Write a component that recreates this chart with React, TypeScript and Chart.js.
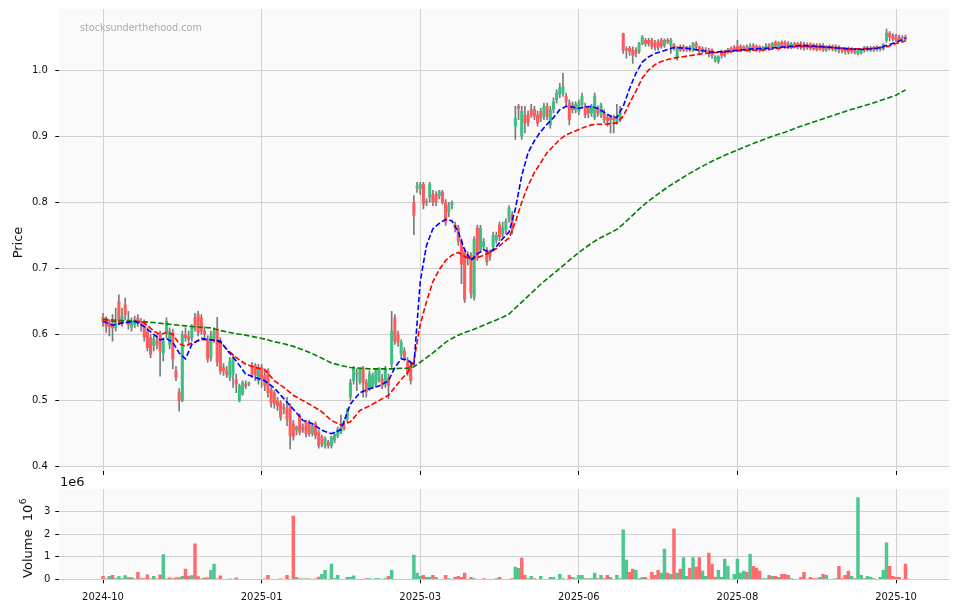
import React, { useEffect, useRef } from 'react';
import { Chart, registerables } from 'chart.js';

Chart.register(...registerables);

const FONT = "'DejaVu Sans', sans-serif";

// x-axis: trading-day index, labelled at these positions
const tickIdx = [0, 50, 100, 150, 200, 250];
const tickLabels = ['2024-10', '2025-01', '2025-03', '2025-06', '2025-08', '2025-10'];
const priceTicks = [0.4, 0.5, 0.6, 0.7, 0.8, 0.9, 1.0];
const volumeTicks = [0, 1e6, 2e6, 3e6];

const opens = [
  0.626, 0.621, 0.618, 0.616, 0.610, 0.649, 0.620, 0.645, 0.623, 0.611,
  0.615, 0.625, 0.618, 0.618, 0.605, 0.595, 0.583, 0.590, 0.600, 0.572,
  0.600, 0.585, 0.603, 0.545, 0.513, 0.500, 0.600, 0.597, 0.595, 0.625,
  0.630, 0.625, 0.605, 0.590, 0.565, 0.593, 0.608, 0.590, 0.550, 0.545,
  0.535, 0.540, 0.532, 0.500, 0.510, 0.525, 0.525, 0.553, 0.553, 0.530,
  0.550, 0.538, 0.545, 0.517, 0.512, 0.500, 0.497, 0.490, 0.487, 0.492,
  0.465, 0.455, 0.477, 0.460, 0.467, 0.467, 0.450, 0.465, 0.452, 0.445,
  0.432, 0.437, 0.432, 0.440, 0.447, 0.452, 0.462, 0.472, 0.505, 0.530,
  0.540, 0.528, 0.548, 0.528, 0.518, 0.520, 0.525, 0.530, 0.533, 0.525,
  0.533, 0.555, 0.625, 0.600, 0.570, 0.575, 0.558, 0.553, 0.800, 0.822,
  0.820, 0.827, 0.800, 0.807, 0.812, 0.812, 0.810, 0.815, 0.800, 0.785,
  0.796, 0.766, 0.761, 0.741, 0.726, 0.720, 0.720, 0.656, 0.761, 0.728,
  0.733, 0.728, 0.723, 0.733, 0.743, 0.766, 0.752, 0.758, 0.774, 0.781,
  0.915, 0.945, 0.900, 0.932, 0.932, 0.940, 0.940, 0.932, 0.937, 0.930,
  0.945, 0.917, 0.940, 0.955, 0.963, 0.965, 0.960, 0.950, 0.947, 0.940,
  0.937, 0.948, 0.945, 0.942, 0.935, 0.928, 0.942, 0.933, 0.935, 0.928,
  0.928, 0.928, 0.922, 0.927, 1.055, 1.032, 1.033, 1.030, 1.030, 1.028,
  1.040, 1.045, 1.045, 1.045, 1.042, 1.043, 1.045, 1.037, 1.045, 1.038,
  1.038, 1.020, 1.035, 1.035, 1.034, 1.034, 1.030, 1.040, 1.035, 1.032,
  1.030, 1.030, 1.030, 1.015, 1.013, 1.027, 1.027, 1.030, 1.033, 1.035,
  1.036, 1.035, 1.035, 1.035, 1.030, 1.037, 1.036, 1.035, 1.030, 1.034,
  1.038, 1.035, 1.042, 1.033, 1.042, 1.042, 1.040, 1.034, 1.040, 1.040,
  1.040, 1.039, 1.038, 1.039, 1.038, 1.037, 1.038, 1.037, 1.030, 1.036,
  1.036, 1.030, 1.035, 1.032, 1.032, 1.033, 1.030, 1.030, 1.025, 1.026,
  1.034, 1.034, 1.030, 1.030, 1.035, 1.033, 1.032, 1.045, 1.056, 1.052,
  1.052, 1.050, 1.048, 1.050,
];
const highs = [
  0.632, 0.627, 0.622, 0.630, 0.640, 0.660, 0.640, 0.655, 0.635, 0.625,
  0.628, 0.630, 0.624, 0.622, 0.610, 0.600, 0.598, 0.600, 0.605, 0.595,
  0.625, 0.610, 0.608, 0.552, 0.518, 0.605, 0.610, 0.605, 0.615, 0.632,
  0.635, 0.630, 0.612, 0.598, 0.605, 0.610, 0.626, 0.595, 0.556, 0.552,
  0.565, 0.570, 0.540, 0.525, 0.530, 0.530, 0.528, 0.558, 0.556, 0.555,
  0.555, 0.545, 0.548, 0.520, 0.515, 0.505, 0.500, 0.495, 0.505, 0.495,
  0.470, 0.462, 0.480, 0.465, 0.470, 0.470, 0.465, 0.468, 0.455, 0.448,
  0.445, 0.440, 0.446, 0.452, 0.460, 0.478, 0.470, 0.488, 0.532, 0.552,
  0.548, 0.550, 0.552, 0.532, 0.545, 0.542, 0.548, 0.550, 0.540, 0.552,
  0.540, 0.635, 0.630, 0.605, 0.592, 0.580, 0.565, 0.560, 0.810, 0.830,
  0.830, 0.830, 0.805, 0.830, 0.818, 0.816, 0.818, 0.818, 0.804, 0.800,
  0.802, 0.770, 0.765, 0.745, 0.730, 0.725, 0.724, 0.748, 0.765, 0.765,
  0.745, 0.732, 0.728, 0.755, 0.755, 0.770, 0.770, 0.775, 0.795, 0.786,
  0.945, 0.948, 0.945, 0.945, 0.938, 0.948, 0.945, 0.938, 0.942, 0.950,
  0.950, 0.945, 0.958, 0.970, 0.980, 0.995, 0.965, 0.955, 0.952, 0.952,
  0.955, 0.965, 0.950, 0.946, 0.948, 0.965, 0.946, 0.950, 0.940, 0.932,
  0.932, 0.932, 0.948, 0.945, 1.056, 1.035, 1.036, 1.035, 1.034, 1.042,
  1.052, 1.048, 1.048, 1.048, 1.045, 1.046, 1.048, 1.047, 1.048, 1.048,
  1.040, 1.036, 1.038, 1.038, 1.036, 1.037, 1.042, 1.043, 1.036, 1.035,
  1.034, 1.033, 1.032, 1.022, 1.022, 1.030, 1.030, 1.033, 1.035, 1.037,
  1.045, 1.038, 1.037, 1.038, 1.040, 1.040, 1.038, 1.037, 1.036, 1.040,
  1.040, 1.042, 1.044, 1.043, 1.044, 1.044, 1.043, 1.042, 1.042, 1.042,
  1.043, 1.042, 1.041, 1.041, 1.040, 1.040, 1.040, 1.040, 1.037, 1.038,
  1.038, 1.038, 1.037, 1.034, 1.034, 1.035, 1.034, 1.033, 1.032, 1.032,
  1.036, 1.036, 1.036, 1.036, 1.037, 1.036, 1.040, 1.062, 1.058, 1.055,
  1.054, 1.053, 1.052, 1.053,
];
const lows = [
  0.612, 0.603, 0.598, 0.590, 0.605, 0.615, 0.612, 0.622, 0.608, 0.605,
  0.610, 0.612, 0.605, 0.590, 0.575, 0.565, 0.575, 0.578, 0.537, 0.560,
  0.595, 0.578, 0.548, 0.530, 0.484, 0.498, 0.590, 0.585, 0.590, 0.605,
  0.598, 0.600, 0.595, 0.558, 0.560, 0.588, 0.552, 0.540, 0.538, 0.535,
  0.530, 0.520, 0.512, 0.498, 0.508, 0.518, 0.522, 0.535, 0.530, 0.525,
  0.520, 0.515, 0.505, 0.490, 0.488, 0.485, 0.470, 0.480, 0.462, 0.427,
  0.440, 0.448, 0.448, 0.452, 0.445, 0.446, 0.446, 0.442, 0.428, 0.430,
  0.428, 0.428, 0.428, 0.436, 0.444, 0.450, 0.455, 0.468, 0.500, 0.525,
  0.515, 0.525, 0.505, 0.505, 0.515, 0.518, 0.522, 0.528, 0.518, 0.520,
  0.503, 0.550, 0.585, 0.582, 0.565, 0.560, 0.538, 0.525, 0.751, 0.815,
  0.812, 0.790, 0.795, 0.800, 0.795, 0.795, 0.805, 0.797, 0.765, 0.778,
  0.790, 0.755, 0.735, 0.677, 0.648, 0.705, 0.655, 0.652, 0.712, 0.724,
  0.728, 0.705, 0.712, 0.728, 0.738, 0.742, 0.748, 0.752, 0.770, 0.752,
  0.895, 0.925, 0.895, 0.905, 0.915, 0.928, 0.925, 0.915, 0.922, 0.925,
  0.925, 0.912, 0.935, 0.950, 0.958, 0.960, 0.945, 0.917, 0.935, 0.935,
  0.932, 0.945, 0.928, 0.928, 0.930, 0.925, 0.930, 0.928, 0.920, 0.915,
  0.905, 0.905, 0.918, 0.922, 1.025, 1.018, 1.022, 1.010, 1.020, 1.025,
  1.038, 1.036, 1.036, 1.032, 1.030, 1.030, 1.033, 1.034, 1.040, 1.025,
  1.030, 1.015, 1.028, 1.028, 1.028, 1.028, 1.028, 1.030, 1.025, 1.026,
  1.026, 1.020, 1.018, 1.012, 1.010, 1.018, 1.020, 1.025, 1.026, 1.028,
  1.028, 1.028, 1.030, 1.028, 1.027, 1.030, 1.028, 1.027, 1.028, 1.030,
  1.030, 1.032, 1.034, 1.030, 1.034, 1.033, 1.032, 1.032, 1.033, 1.032,
  1.031, 1.030, 1.031, 1.030, 1.030, 1.029, 1.030, 1.028, 1.028, 1.030,
  1.029, 1.028, 1.026, 1.026, 1.024, 1.024, 1.025, 1.024, 1.023, 1.024,
  1.027, 1.028, 1.028, 1.028, 1.029, 1.029, 1.030, 1.042, 1.044, 1.044,
  1.043, 1.043, 1.044, 1.044,
];
const closes = [
  0.620, 0.612, 0.612, 0.610, 0.618, 0.620, 0.628, 0.630, 0.615, 0.620,
  0.622, 0.618, 0.616, 0.596, 0.580, 0.570, 0.593, 0.585, 0.575, 0.590,
  0.620, 0.605, 0.563, 0.535, 0.500, 0.600, 0.595, 0.592, 0.612, 0.610,
  0.603, 0.605, 0.600, 0.563, 0.598, 0.605, 0.558, 0.545, 0.545, 0.540,
  0.560, 0.565, 0.525, 0.522, 0.527, 0.522, 0.525, 0.540, 0.538, 0.550,
  0.533, 0.523, 0.512, 0.497, 0.495, 0.492, 0.475, 0.487, 0.472, 0.447,
  0.445, 0.460, 0.452, 0.456, 0.450, 0.450, 0.462, 0.447, 0.432, 0.435,
  0.442, 0.432, 0.444, 0.449, 0.457, 0.459, 0.458, 0.485, 0.527, 0.550,
  0.541, 0.548, 0.528, 0.513, 0.540, 0.538, 0.545, 0.548, 0.523, 0.548,
  0.523, 0.605, 0.590, 0.588, 0.588, 0.565, 0.543, 0.530, 0.780, 0.824,
  0.827, 0.797, 0.801, 0.827, 0.800, 0.800, 0.816, 0.800, 0.770, 0.795,
  0.800, 0.761, 0.741, 0.706, 0.653, 0.715, 0.662, 0.744, 0.718, 0.761,
  0.741, 0.710, 0.718, 0.750, 0.750, 0.748, 0.761, 0.771, 0.791, 0.758,
  0.927, 0.942, 0.938, 0.920, 0.920, 0.932, 0.930, 0.920, 0.927, 0.945,
  0.930, 0.940, 0.952, 0.965, 0.973, 0.975, 0.952, 0.925, 0.940, 0.948,
  0.950, 0.960, 0.932, 0.935, 0.945, 0.960, 0.935, 0.947, 0.925, 0.923,
  0.925, 0.925, 0.927, 0.935, 1.030, 1.030, 1.028, 1.022, 1.025, 1.040,
  1.050, 1.040, 1.040, 1.036, 1.035, 1.034, 1.036, 1.045, 1.043, 1.045,
  1.033, 1.033, 1.030, 1.030, 1.031, 1.030, 1.040, 1.035, 1.028, 1.029,
  1.029, 1.025, 1.022, 1.020, 1.020, 1.022, 1.022, 1.027, 1.028, 1.030,
  1.030, 1.030, 1.033, 1.031, 1.036, 1.033, 1.031, 1.030, 1.034, 1.036,
  1.033, 1.040, 1.037, 1.041, 1.037, 1.036, 1.035, 1.039, 1.036, 1.035,
  1.034, 1.033, 1.034, 1.033, 1.032, 1.031, 1.032, 1.030, 1.035, 1.033,
  1.032, 1.035, 1.030, 1.029, 1.028, 1.027, 1.028, 1.027, 1.030, 1.031,
  1.030, 1.031, 1.033, 1.034, 1.032, 1.033, 1.038, 1.056, 1.050, 1.047,
  1.046, 1.045, 1.048, 1.047,
];
// shares traded per day
const volumes = [
  130000, 10000, 130000, 180000, 30000, 120000, 30000, 160000, 80000, 80000,
  20000, 310000, 30000, 30000, 200000, 20000, 130000, 20000, 200000, 1100000,
  20000, 70000, 30000, 70000, 80000, 130000, 450000, 130000, 170000, 1570000,
  120000, 20000, 70000, 70000, 400000, 670000, 20000, 150000, 0, 0,
  20000, 0, 70000, 0, 0, 0, 0, 0, 0, 0,
  0, 20000, 180000, 0, 0, 0, 20000, 0, 180000, 0,
  2800000, 90000, 20000, 20000, 20000, 20000, 0, 20000, 100000, 220000,
  400000, 0, 670000, 30000, 180000, 0, 0, 90000, 90000, 150000,
  0, 0, 0, 30000, 30000, 0, 30000, 30000, 0, 30000,
  130000, 400000, 0, 0, 0, 0, 0, 0, 1070000, 270000,
  130000, 180000, 90000, 90000, 180000, 90000, 0, 0, 180000, 30000,
  0, 90000, 130000, 90000, 270000, 0, 90000, 30000, 0, 0,
  30000, 0, 0, 0, 30000, 90000, 0, 0, 0, 30000,
  540000, 490000, 940000, 180000, 30000, 130000, 30000, 0, 130000, 0,
  0, 90000, 90000, 0, 220000, 30000, 0, 180000, 90000, 30000,
  180000, 180000, 30000, 30000, 30000, 270000, 30000, 180000, 30000, 180000,
  90000, 0, 180000, 30000, 2190000, 850000, 310000, 450000, 400000, 30000,
  90000, 90000, 0, 310000, 180000, 400000, 270000, 1340000, 270000, 220000,
  2240000, 270000, 450000, 960000, 130000, 490000, 960000, 540000, 960000, 360000,
  130000, 1160000, 670000, 90000, 400000, 90000, 900000, 580000, 0, 220000,
  900000, 270000, 360000, 310000, 1120000, 580000, 500000, 360000, 30000, 30000,
  180000, 130000, 130000, 90000, 220000, 220000, 180000, 30000, 0, 0,
  90000, 310000, 0, 90000, 30000, 30000, 90000, 220000, 180000, 0,
  0, 30000, 580000, 30000, 180000, 360000, 130000, 30000, 3620000, 180000,
  30000, 130000, 90000, 30000, 0, 90000, 400000, 1610000, 580000, 130000,
  90000, 90000, 0, 670000,
];

// moving-average overlays, read at these bar indices
const maIdx = [
  0, 3, 6, 10, 13, 16, 18, 20, 22, 24, 26, 28, 31, 34, 37, 39, 42, 45, 48, 51,
  54, 57, 60, 63, 66, 69, 72, 75, 78, 81, 84, 87, 90, 92, 94, 96, 98, 100, 102, 104,
  106, 108, 110, 112, 114, 116, 118, 120, 122, 124, 126, 128, 130, 132, 134, 136, 138, 140, 142, 144,
  146, 148, 150, 152, 154, 156, 158, 160, 162, 164, 166, 168, 170, 172, 174, 176, 178, 180, 184, 188,
  192, 196, 200, 205, 210, 215, 220, 225, 230, 235, 240, 244, 247, 250, 253,
];
const maFast = [
  0.620, 0.614, 0.617, 0.620, 0.612, 0.600, 0.592, 0.594, 0.588, 0.572, 0.563, 0.585, 0.594, 0.592, 0.590, 0.577, 0.560, 0.540, 0.535, 0.530,
  0.519, 0.503, 0.487, 0.470, 0.465, 0.455, 0.450, 0.456, 0.495, 0.512, 0.518, 0.522, 0.530, 0.550, 0.563, 0.562, 0.553, 0.680, 0.735, 0.760,
  0.768, 0.774, 0.772, 0.755, 0.728, 0.712, 0.722, 0.728, 0.724, 0.733, 0.745, 0.755, 0.790, 0.840, 0.875, 0.893, 0.907, 0.918, 0.928, 0.940,
  0.945, 0.944, 0.942, 0.944, 0.945, 0.942, 0.936, 0.930, 0.928, 0.945, 0.972, 0.995, 1.012, 1.020, 1.025, 1.028, 1.031, 1.034, 1.033, 1.030,
  1.027, 1.028, 1.030, 1.032, 1.033, 1.035, 1.037, 1.036, 1.034, 1.032, 1.031, 1.033, 1.037, 1.042, 1.048,
];
const maMid = [
  0.623, 0.620, 0.618, 0.620, 0.618, 0.605, 0.600, 0.603, 0.600, 0.586, 0.582, 0.587, 0.592, 0.592, 0.588, 0.578, 0.565, 0.555, 0.550, 0.547,
  0.530, 0.520, 0.508, 0.500, 0.492, 0.483, 0.470, 0.463, 0.468, 0.485, 0.492, 0.500, 0.508, 0.520, 0.532, 0.542, 0.560, 0.615, 0.650, 0.680,
  0.698, 0.712, 0.720, 0.724, 0.718, 0.714, 0.716, 0.720, 0.724, 0.730, 0.738, 0.746, 0.770, 0.800, 0.825, 0.845, 0.860, 0.875, 0.885, 0.895,
  0.902, 0.906, 0.910, 0.914, 0.917, 0.918, 0.918, 0.919, 0.920, 0.930, 0.950, 0.968, 0.988, 1.000, 1.008, 1.013, 1.016, 1.018, 1.021, 1.024,
  1.026, 1.027, 1.029, 1.030, 1.031, 1.034, 1.036, 1.035, 1.034, 1.032, 1.032, 1.033, 1.035, 1.040, 1.044,
];
const maSlow = [
  0.623, 0.622, 0.621, 0.620, 0.619, 0.618, 0.617, 0.616, 0.615, 0.614, 0.613, 0.612, 0.611, 0.610, 0.606, 0.604, 0.601, 0.599, 0.596, 0.593,
  0.589, 0.586, 0.582, 0.577, 0.571, 0.564, 0.557, 0.553, 0.550, 0.549, 0.548, 0.548, 0.548, 0.548, 0.549, 0.549, 0.551, 0.558, 0.565, 0.572,
  0.580, 0.588, 0.594, 0.599, 0.603, 0.606, 0.610, 0.614, 0.618, 0.622, 0.626, 0.631, 0.640, 0.649, 0.658, 0.667, 0.676, 0.684, 0.692, 0.700,
  0.708, 0.716, 0.724, 0.731, 0.738, 0.744, 0.749, 0.754, 0.759, 0.767, 0.776, 0.785, 0.794, 0.802, 0.809, 0.816, 0.823, 0.829, 0.841, 0.852,
  0.862, 0.871, 0.879, 0.889, 0.898, 0.906, 0.915, 0.923, 0.931, 0.939, 0.946, 0.952, 0.957, 0.962, 0.970,
];

const X_MIN = -13.78;
const X_MAX = 266.7;
const UP = '#3fbf82';
const DOWN = '#fd5c5c';
const VOL_UP = '#4dc790';
const VOL_DOWN = '#fd6b6c';
const WICK = '#7a7a7a';
const GRID = '#d0d0d0';
const PANEL = '#fafafa';
const TEXT = '#111';

const panelBg = {
  id: 'panelBg',
  beforeDraw(chart: any) {
    const { ctx, chartArea: a } = chart;
    ctx.save();
    ctx.fillStyle = PANEL;
    ctx.fillRect(a.left, a.top, a.right - a.left, a.bottom - a.top);
    ctx.restore();
  },
};

const noPad = (s: any) => {
  s.paddingTop = 0;
  s.paddingBottom = 0;
  s.paddingLeft = 0;
  s.paddingRight = 0;
};

const xGrid = { color: GRID, lineWidth: 1, drawTicks: true, tickLength: 4, tickColor: '#000', tickWidth: 1, offset: false };
const yGrid = { color: GRID, lineWidth: 1, drawTicks: true, tickLength: 4, tickColor: '#000', tickWidth: 1 };

export default function App() {
  const priceRef = useRef<HTMLCanvasElement>(null);
  const volRef = useRef<HTMLCanvasElement>(null);

  useEffect(() => {
    Chart.defaults.font.family = FONT;
    const n = closes.length;
    const idx = Array.from({ length: n }, (_, i) => i);
    const bodyColors = idx.map((i) => (closes[i] >= opens[i] ? UP : DOWN));
    const volColors = idx.map((i) =>
      (i === 0 ? closes[i] >= opens[i] : closes[i] >= closes[i - 1]) ? VOL_UP : VOL_DOWN
    );

    const priceLabels = {
      id: 'priceLabels',
      afterDraw(chart: any) {
        const { ctx, chartArea: a } = chart;
        ctx.save();
        ctx.font = `9.6px ${FONT}`;
        ctx.fillStyle = '#ababab';
        ctx.textBaseline = 'alphabetic';
        ctx.textAlign = 'left';
        ctx.fillText('stocksunderthehood.com', a.left + 20.7, 30.5);
        ctx.fillStyle = TEXT;
        ctx.font = `13px ${FONT}`;
        ctx.translate(21.5, 242.5);
        ctx.rotate(-Math.PI / 2);
        ctx.textAlign = 'center';
        ctx.fillText('Price', 0, 0);
        ctx.restore();
      },
    };

    const volLabels = {
      id: 'volLabels',
      afterDraw(chart: any) {
        const { ctx } = chart;
        ctx.save();
        ctx.fillStyle = TEXT;
        ctx.textBaseline = 'alphabetic';
        ctx.textAlign = 'left';
        ctx.font = `13px ${FONT}`;
        ctx.fillText('1e6', 60, 16);
        ctx.translate(31.5, 68.5);
        ctx.rotate(-Math.PI / 2);
        const main = 'Volume  10';
        const w1 = ctx.measureText(main).width;
        ctx.font = `9px ${FONT}`;
        const w2 = ctx.measureText('6').width;
        const x0 = -(w1 + w2) / 2;
        ctx.font = `13px ${FONT}`;
        ctx.fillText(main, x0, 0);
        ctx.font = `9px ${FONT}`;
        ctx.fillText('6', x0 + w1 + 0.5, -5.5);
        ctx.restore();
      },
    };

    const price = new Chart(priceRef.current!, {
      type: 'bar',
      data: {
        datasets: [
          {
            type: 'line', data: maIdx.map((x, k) => ({ x, y: maFast[k] })), borderColor: '#0000ff',
            borderWidth: 1.6, borderDash: [5.5, 2.4], pointRadius: 0, order: 0, tension: 0,
          } as any,
          {
            type: 'line', data: maIdx.map((x, k) => ({ x, y: maMid[k] })), borderColor: '#ff0000',
            borderWidth: 1.6, borderDash: [5.5, 2.4], pointRadius: 0, order: 1, tension: 0,
          } as any,
          {
            type: 'line', data: maIdx.map((x, k) => ({ x, y: maSlow[k] })), borderColor: '#008000',
            borderWidth: 1.6, borderDash: [5.5, 2.4], pointRadius: 0, order: 2, tension: 0,
          } as any,
          {
            type: 'bar', data: idx.map((i) => ({ x: i, y: [Math.min(opens[i], closes[i]), Math.max(opens[i], closes[i])] })),
            backgroundColor: bodyColors, barThickness: 2.4, minBarLength: 1, grouped: false, order: 3,
          } as any,
          {
            type: 'bar', data: idx.map((i) => ({ x: i, y: [lows[i], highs[i]] })),
            backgroundColor: WICK, barThickness: 1, grouped: false, order: 4,
          } as any,
        ],
      },
      options: {
        animation: false,
        responsive: false,
        devicePixelRatio: 1,
        layout: { padding: { top: 9, right: 10, left: 0, bottom: 0 } },
        plugins: { legend: { display: false }, tooltip: { enabled: false } },
        scales: {
          x: {
            type: 'linear', min: X_MIN, max: X_MAX, offset: false,
            afterBuildTicks: (s: any) => { s.ticks = tickIdx.map((v) => ({ value: v })); },
            ticks: { display: false },
            grid: xGrid as any,
            border: { display: false },
            afterFit: (s: any) => { s.height = 9; noPad(s); },
          },
          y: {
            type: 'linear', min: 0.3935, max: 1.0923,
            afterBuildTicks: (s: any) => { s.ticks = priceTicks.map((v) => ({ value: v })); },
            ticks: { callback: (v: any) => Number(v).toFixed(1), color: TEXT, font: { size: 10 }, padding: 7.5 },
            grid: yGrid as any,
            border: { display: false },
            afterFit: (s: any) => { s.width = 59.3; noPad(s); },
          },
        },
      } as any,
      plugins: [panelBg, priceLabels],
    });

    const vol = new Chart(volRef.current!, {
      type: 'bar',
      data: {
        datasets: [
          {
            data: idx.map((i) => ({ x: i, y: volumes[i] })),
            backgroundColor: volColors, barThickness: 2.8, grouped: false,
          } as any,
        ],
      },
      options: {
        animation: false,
        responsive: false,
        devicePixelRatio: 1,
        layout: { padding: { top: 19, right: 10, left: 0, bottom: 0 } },
        plugins: { legend: { display: false }, tooltip: { enabled: false } },
        scales: {
          x: {
            type: 'linear', min: X_MIN, max: X_MAX, offset: false,
            afterBuildTicks: (s: any) => { s.ticks = tickIdx.map((v) => ({ value: v })); },
            ticks: {
              autoSkip: false, maxRotation: 0, color: TEXT, font: { size: 10 }, padding: 8,
              callback: (v: any) => { const k = tickIdx.indexOf(Number(v)); return k >= 0 ? tickLabels[k] : ''; },
            },
            grid: xGrid as any,
            border: { display: false },
            afterFit: (s: any) => { s.height = 31.7; noPad(s); },
          },
          y: {
            type: 'linear', min: 0, max: 4.0e6,
            afterBuildTicks: (s: any) => { s.ticks = volumeTicks.map((v) => ({ value: v })); },
            ticks: { callback: (v: any) => String(Math.round(Number(v) / 1e6)), color: TEXT, font: { size: 10 }, padding: 5 },
            grid: yGrid as any,
            border: { display: false },
            afterFit: (s: any) => { s.width = 59.3; noPad(s); },
          },
        },
      } as any,
      plugins: [panelBg, volLabels],
    });

    return () => {
      price.destroy();
      vol.destroy();
    };
  }, []);

  return (
    <div style={{ position: 'fixed', left: 0, top: 0, width: 959, height: 611, background: '#fff' }}>
      <canvas ref={priceRef} width={959} height={480} style={{ position: 'absolute', left: 0, top: 0 }} />
      <canvas ref={volRef} width={959} height={141} style={{ position: 'absolute', left: 0, top: 470 }} />
    </div>
  );
}
